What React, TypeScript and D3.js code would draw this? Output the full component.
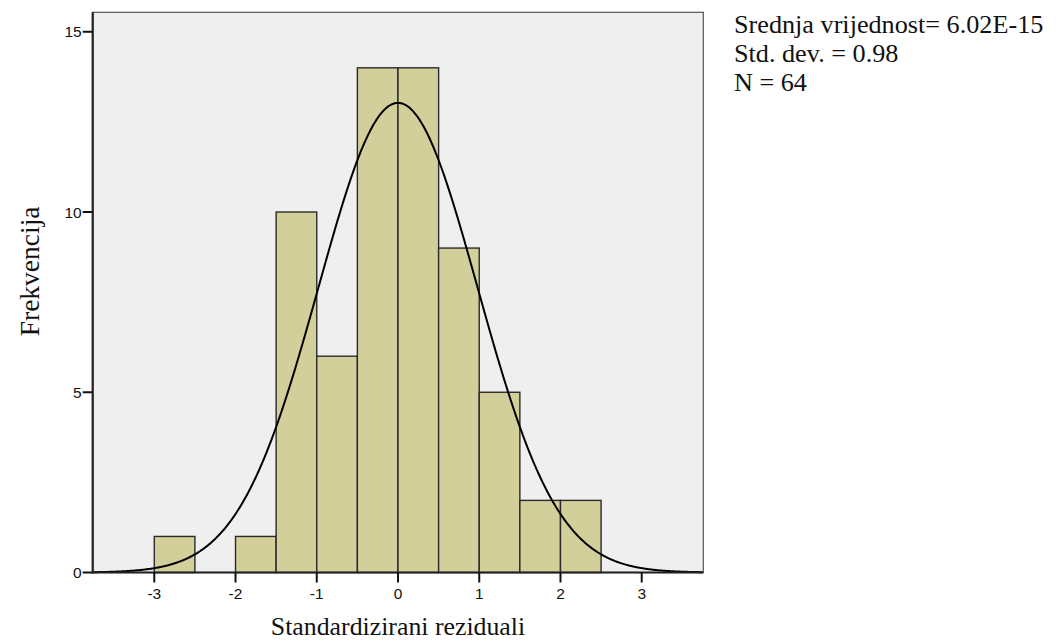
import React from "react";
import * as d3 from "d3";

const binStarts = [-3, -2.5, -2, -1.5, -1, -0.5, 0, 0.5, 1, 1.5, 2];
const binCounts = [1, 0, 1, 10, 6, 14, 14, 9, 5, 2, 2];
const binWidth = 0.5;
const xTicks = [-3, -2, -1, 0, 1, 2, 3];
const yTicks = [0, 5, 10, 15];
const statLines = ["Srednja vrijednost= 6.02E-15", "Std. dev. = 0.98", "N = 64"];
const meanVal = 6.02e-15;
const sdVal = 0.98;
const nVal = 64;

const W = 1063;
const H = 642;
const L = 92.7, R = 703.3, T = 12.3, B = 572.5;

export default function App() {
  const x = d3.scaleLinear().domain([-3.758, 3.758]).range([L, R]);
  const y = d3.scaleLinear().domain([0, 15.54]).range([B, T]);
  const scale = nVal * binWidth;
  const pts: [number, number][] = d3.range(-3.758, 3.7581, 0.01).map((v) => [
    v,
    (scale / (sdVal * Math.sqrt(2 * Math.PI))) * Math.exp(-0.5 * ((v - meanVal) / sdVal) ** 2),
  ]);
  const line = d3.line<[number, number]>().x((d) => x(d[0])).y((d) => y(d[1]));
  const sans = "'Liberation Sans', Arial, sans-serif";
  const serif = "'Liberation Serif', 'Times New Roman', serif";
  return (
    <svg width={W} height={H} style={{ position: "absolute", left: 0, top: 0, background: "#fff" }}>
      <rect x={L} y={T} width={R - L} height={B - T} fill="#efefef" stroke="#555" strokeWidth={1.2} />
      {binStarts.map((s, i) =>
        binCounts[i] > 0 ? (
          <rect
            key={i}
            x={x(s)}
            y={y(binCounts[i])}
            width={x(s + binWidth) - x(s)}
            height={B - y(binCounts[i])}
            fill="#d3cf9a"
            stroke="#2a2a2a"
            strokeWidth={1.4}
          />
        ) : null
      )}
      <path d={line(pts) || ""} fill="none" stroke="#000" strokeWidth={2} />
      <line x1={L} x2={L} y1={T} y2={B + 1} stroke="#222" strokeWidth={2.2} />
      <line x1={L} x2={R} y1={B} y2={B} stroke="#222" strokeWidth={2.2} />
      {yTicks.map((t) => (
        <g key={t}>
          <line x1={L - 10} x2={L} y1={y(t)} y2={y(t)} stroke="#111" strokeWidth={2} />
          <text x={L - 11} y={y(t)} dy="0.36em" textAnchor="end" fontFamily={sans} fontSize={15.5} fill="#111">
            {t}
          </text>
        </g>
      ))}
      {xTicks.map((t) => (
        <g key={t}>
          <line x1={x(t)} x2={x(t)} y1={B} y2={B + 10} stroke="#111" strokeWidth={2} />
          <text x={x(t)} y={B + 26.5} textAnchor="middle" fontFamily={sans} fontSize={15.5} fill="#111">
            {t}
          </text>
        </g>
      ))}
      <text x={(L + R) / 2} y={635} textAnchor="middle" fontFamily={serif} fontSize={25.8} fill="#111">
        Standardizirani reziduali
      </text>
      <text
        transform={`translate(38.5,${(T + B) / 2 - 21}) rotate(-90)`}
        textAnchor="middle"
        fontFamily={serif}
        fontSize={27.5}
        fill="#111"
      >
        Frekvencija
      </text>
      {statLines.map((s, i) => (
        <text key={i} x={734} y={33 + i * 29} fontFamily={serif} fontSize={26.2} fill="#111">
          {s}
        </text>
      ))}
    </svg>
  );
}
